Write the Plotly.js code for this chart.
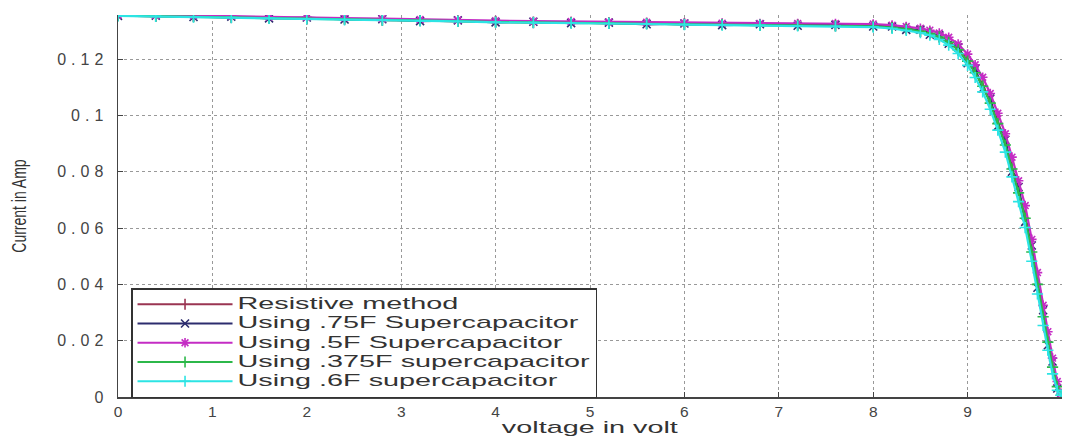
<!DOCTYPE html>
<html>
<head>
<meta charset="utf-8">
<script src="https://cdn.plot.ly/plotly-3.0.1.min.js"></script>
<style>
html,body{margin:0;padding:0;background:#fff;}
#chart{width:1070px;height:436px;}
.legendtext{font-size:16px !important; transform:scaleX(1.8); transform-box:fill-box; transform-origin:0% 50%;}
.ytick text{letter-spacing:5px;}
.xtitle{transform:translateY(2px) scaleX(1.8); transform-box:fill-box; transform-origin:50% 50%;}
.ytitle{font-size:20px !important; transform:translate(-19px,7px) rotate(-90deg) scaleX(0.7); transform-box:fill-box; transform-origin:50% 50%;}
</style>
</head>
<body>
<div id="chart"></div>
<script>
// Voltage samples (V), shared by all series
const voltage = [0,0.4,0.8,1.2,1.6,2.0,2.4,2.8,3.2,3.6,4.0,4.4,4.8,5.2,5.6,6.0,6.4,6.8,7.2,7.6,8.0,
  8.2,8.35,8.5,8.6,8.7,8.8,8.9,9.0,9.08,9.16,9.24,9.32,9.4,9.47,9.54,9.61,9.68,9.74,9.8,9.85,9.9,9.95,9.99];

// Currents (A)
const resistive = [0.1356,0.1352,0.1352,0.1348,0.1348,0.1343,0.1343,0.1339,0.1338,0.1334,0.1334,0.1330,0.1331,0.1327,0.1327,0.1324,0.1324,0.1321,0.1322,0.1319,0.1319,
  0.1315,0.1311,0.1299,0.1295,0.1279,0.1266,0.1233,0.1202,0.1149,0.1113,0.1044,0.0981,0.0895,0.0819,0.0724,0.0645,0.0516,0.0410,0.0284,0.0204,0.0107,0.0042,0.0009];
const cap075 = [0.1354,0.1355,0.1350,0.1351,0.1345,0.1348,0.1341,0.1342,0.1335,0.1338,0.1331,0.1333,0.1328,0.1330,0.1324,0.1327,0.1321,0.1324,0.1319,0.1322,0.1316,
  0.1316,0.1304,0.1305,0.1287,0.1285,0.1255,0.1242,0.1186,0.1165,0.1096,0.1060,0.0962,0.0914,0.0800,0.0746,0.0622,0.0538,0.0388,0.0308,0.0184,0.0126,0.0030,0.0012];
const cap05 = [0.1357,0.1356,0.1354,0.1353,0.1350,0.1349,0.1346,0.1344,0.1341,0.1339,0.1337,0.1335,0.1334,0.1332,0.1331,0.1329,0.1328,0.1327,0.1327,0.1327,0.1325,
  0.1321,0.1316,0.1310,0.1303,0.1293,0.1278,0.1254,0.1218,0.1180,0.1136,0.1078,0.1008,0.0935,0.0852,0.0768,0.0680,0.0560,0.0442,0.0326,0.0232,0.0138,0.0055,0.0012];
const cap0375 = [0.1355,0.1353,0.1351,0.1349,0.1346,0.1344,0.1342,0.1339,0.1337,0.1335,0.1332,0.1331,0.1329,0.1328,0.1326,0.1324,0.1323,0.1321,0.1320,0.1319,0.1317,
  0.1312,0.1307,0.1299,0.1291,0.1279,0.1260,0.1233,0.1193,0.1152,0.1104,0.1044,0.0971,0.0895,0.0810,0.0725,0.0635,0.0515,0.0400,0.0285,0.0195,0.0106,0.0037,0.0006];
const cap06 = [0.1354,0.1352,0.1349,0.1348,0.1345,0.1343,0.1340,0.1339,0.1336,0.1334,0.1331,0.1330,0.1328,0.1327,0.1325,0.1323,0.1321,0.1320,0.1318,0.1317,0.1314,
  0.1309,0.1302,0.1294,0.1285,0.1270,0.1250,0.1220,0.1178,0.1135,0.1084,0.1022,0.0948,0.0870,0.0782,0.0694,0.0602,0.0482,0.0366,0.0254,0.0166,0.0082,0.0024,0.0006];

const seriesNames = ["Resistive method","Using .75F Supercapacitor","Using .5F Supercapacitor","Using .375F supercapacitor","Using .6F supercapacitor"];
const seriesData = [resistive, cap075, cap05, cap0375, cap06];
const seriesColors = ["#9a3552","#2c2c6e","#c42cc4","#2cb84a","#2ce4e4"];
const seriesSymbols = ["line-ns-open","x-thin-open","asterisk-open","cross-thin-open","cross-thin-open"];

const xTicks = [0,1,2,3,4,5,6,7,8,9];
const yTicks = [0,0.02,0.04,0.06,0.08,0.1,0.12];
const yTickText = ["0","0.02","0.04","0.06","0.08","0.1","0.12"];

const traces = seriesData.map((ys, i) => ({
  type: "scatter",
  mode: "lines+markers",
  x: voltage,
  y: ys,
  name: seriesNames[i],
  line: {color: seriesColors[i], width: 2.2},
  marker: {symbol: seriesSymbols[i], size: 8, color: seriesColors[i], line: {color: seriesColors[i], width: 1.6}}
}));

const font = 'Liberation Sans, Arial, sans-serif';
const layout = {
  width: 1070, height: 436,
  margin: {l: 118, r: 8, t: 15, b: 39},
  paper_bgcolor: "#fff", plot_bgcolor: "#fff",
  showlegend: true,
  legend: {
    x: 0.0138, xanchor: "left", y: 0.285, yanchor: "top",
    bgcolor: "#fff", bordercolor: "#333", borderwidth: 1.5,
    font: {family: font, size: 12.5, color: "#333"},
    itemwidth: 95, tracegroupgap: 0
  },
  xaxis: {
    range: [0, 10], tickvals: xTicks, ticks: "inside", ticklen: 5, tickcolor: "#444",
    showline: true, linecolor: "#444", linewidth: 1.5, mirror: false,
    showgrid: true, gridcolor: "#999", griddash: "dot", gridwidth: 1, zeroline: false,
    tickfont: {family: font, size: 15.5, color: "#444"},
    ticklabelstandoff: 0,
    title: {text: "voltage in volt", font: {family: font, size: 16, color: "#333"}, standoff: 0},
    automargin: false
  },
  yaxis: {
    range: [0, 0.1357], tickvals: yTicks, ticktext: yTickText, ticks: "inside", ticklen: 5, tickcolor: "#444",
    showline: true, linecolor: "#444", linewidth: 1.5, mirror: false,
    showgrid: true, gridcolor: "#999", griddash: "dot", gridwidth: 1, zeroline: false,
    tickfont: {family: font, size: 16, color: "#444"},
    ticklabelstandoff: 5,
    title: {text: "Current in Amp", font: {family: font, size: 17, color: "#333"}, standoff: 14},
    automargin: false
  }
};

Plotly.newPlot("chart", traces, layout, {displayModeBar: false, staticPlot: true});
</script>
</body>
</html>
